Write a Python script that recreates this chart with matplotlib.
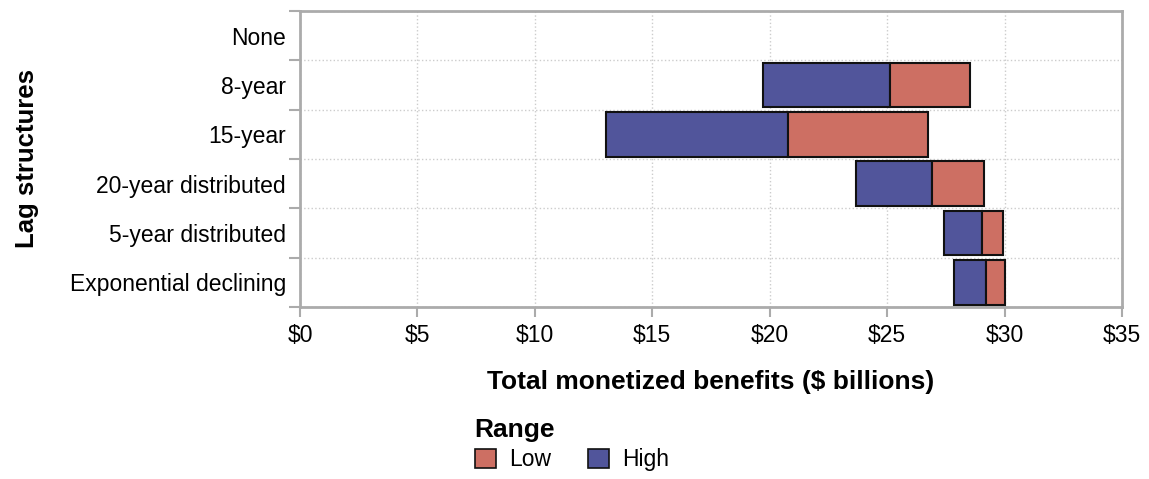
import numpy as np
import matplotlib.pyplot as plt
from matplotlib.patches import Patch

plt.rcParams["font.family"] = ["Liberation Sans", "DejaVu Sans"]

categories = ["None", "8-year", "15-year", "20-year distributed",
              "5-year distributed", "Exponential declining"]
high_start = [np.nan, 19.71, 13.02, 23.68, 27.40, 27.85]
mid_value = [np.nan, 25.12, 20.79, 26.93, 29.03, 29.23]
low_end = [np.nan, 28.53, 26.76, 29.14, 29.95, 30.01]
x_ticks = [0, 5, 10, 15, 20, 25, 30, 35]
x_tick_labels = ["$0", "$5", "$10", "$15", "$20", "$25", "$30", "$35"]

blue = "#51559b"
red = "#cd6f63"
spine_gray = "#ababab"

fig = plt.figure(figsize=(11.49, 4.79), dpi=100)
ax = fig.add_axes([300 / 1149, 1 - 307 / 479, 822 / 1149, 296 / 479])

y = np.arange(len(categories))
hs = np.array(high_start)
md = np.array(mid_value)
le = np.array(low_end)
ok = ~np.isnan(hs)

ax.barh(y[ok], md[ok] - hs[ok], left=hs[ok], height=0.9, color=blue,
        edgecolor="#111111", linewidth=1.5, zorder=3)
ax.barh(y[ok], le[ok] - md[ok], left=md[ok], height=0.9, color=red,
        edgecolor="#111111", linewidth=1.5, zorder=3)

ax.set_xlim(0, 35)
ax.set_ylim(len(categories) - 0.5, -0.5)

ax.set_xticks(x_ticks)
ax.set_xticklabels(x_tick_labels, fontsize=16.5)
ax.set_yticks(np.arange(-0.5, len(categories), 1.0))
ax.set_yticklabels([])
ax.set_yticks(y, minor=True)
ax.set_yticklabels(categories, minor=True, fontsize=16.5)
ax.tick_params(axis="y", which="minor", length=0, pad=10)
ax.tick_params(axis="y", which="major", length=8, width=1.5, color=spine_gray)
ax.tick_params(axis="x", length=7, width=1.5, color=spine_gray, pad=5)

ax.grid(True, which="major", linestyle=":", color="#cccccc", linewidth=1, zorder=0)
ax.set_axisbelow(True)

for s in ax.spines.values():
    s.set_color(spine_gray)
    s.set_linewidth(2)

ax.set_xlabel("Total monetized benefits ($ billions)", fontsize=19,
              fontweight="bold", va="center")
ax.xaxis.set_label_coords(0.5, (307 - 382) / 296)
ax.set_ylabel("Lag structures", fontsize=18.5, fontweight="bold", va="center")
ax.yaxis.set_label_coords((27 - 300) / 822, 0.5)

handles = [Patch(facecolor=red, edgecolor="#111111", linewidth=1.2, label="Low"),
           Patch(facecolor=blue, edgecolor="#111111", linewidth=1.2, label="High")]
leg = fig.legend(handles=handles, title="Range", loc="upper left",
                 bbox_to_anchor=(470 / 1149, 1 - 413 / 479), ncol=2,
                 frameon=False, fontsize=16.5,
                 title_fontproperties={"weight": "bold", "size": 19},
                 handlelength=0.95, handleheight=0.95, handletextpad=0.55,
                 columnspacing=1.6, alignment="left", borderaxespad=0,
                 labelspacing=0.3, borderpad=0.2)

fig.savefig("out.png", dpi=100)
